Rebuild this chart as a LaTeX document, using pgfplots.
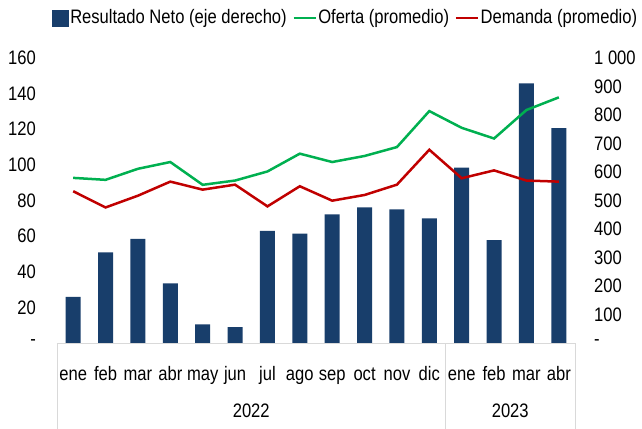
\documentclass[border=0pt]{standalone}
\usepackage{fontspec}
\setmainfont[FakeStretch=0.85]{Liberation Sans}
\usepackage{pgfplots}
\pgfplotsset{compat=1.18}
\definecolor{navy}{HTML}{183E6B}
\definecolor{ogreen}{HTML}{00B050}
\definecolor{dred}{HTML}{C00000}
\definecolor{lgrey}{HTML}{D9D9D9}
\begin{document}
\fontsize{19.5bp}{22bp}\selectfont
\begin{tikzpicture}
\path[use as bounding box] (-57bp,-86bp) rectangle (585bp,343bp);
\begin{axis}[
  at={(0bp,0bp)}, anchor=south west,
  scale only axis, width=518bp, height=285bp,
  xmin=-0.5, xmax=15.5, ymin=0, ymax=1000,
  axis y line*=right, axis x line=none,
  ytick={0,100,...,1000},
  yticklabels={-,100,200,300,400,500,600,700,800,900,1 000},
  major tick length=0pt,
  y axis line style={draw=none},
  yticklabel style={font=\fontsize{19.5bp}{22bp}\selectfont, anchor=west, inner sep=0pt, xshift=19bp},
  clip=false,
]
\addplot[ybar, bar width=0.46, fill=navy, draw=none] coordinates {
(0,162) (1,318) (2,365) (3,209) (4,65) (5,56) (6,393) (7,384)
(8,451) (9,476) (10,469) (11,437) (12,615) (13,361) (14,911) (15,754)
};
\end{axis}
\begin{axis}[
  at={(0bp,0bp)}, anchor=south west,
  scale only axis, width=518bp, height=285bp,
  xmin=-0.5, xmax=15.5, ymin=0, ymax=160,
  axis y line*=left, axis x line*=bottom,
  y axis line style={draw=none},
  x axis line style={draw=lgrey, line width=0.8bp, -},
  ytick={0,20,...,160},
  yticklabels={-,20,40,60,80,100,120,140,160},
  xtick={0,...,15},
  xticklabels={ene,feb,mar,abr,may,jun,jul,ago,sep,oct,nov,dic,ene,feb,mar,abr},
  major tick length=0pt,
  yticklabel style={font=\fontsize{19.5bp}{22bp}\selectfont, anchor=east, inner sep=0pt, xshift=-21bp},
  xticklabel style={font=\fontsize{19.5bp}{22bp}\selectfont, anchor=base, inner sep=0pt, yshift=-37bp},
  clip=false,
  legend columns=3,
  legend style={at={(axis description cs:0.557,1.14)}, anchor=center, draw=none, fill=none,
    font=\fontsize{19.5bp}{22bp}\selectfont,
    nodes={inner sep=1.5bp},
    /tikz/every even column/.append style={column sep=4bp}},
]
\addlegendimage{legend image code/.code={\fill[navy] (0bp,-8bp) rectangle (16bp,8bp);}}
\addlegendentry{Resultado Neto (eje derecho)}
\addplot[ogreen, line width=2.5bp, legend image code/.code={\draw[ogreen, line width=2.5bp] (0bp,0bp) -- (22bp,0bp);}] coordinates {
(0,92.7) (1,91.6) (2,97.8) (3,101.6) (4,88.8) (5,91.2) (6,96.3) (7,106.3)
(8,101.6) (9,105) (10,110) (11,130.2) (12,120.8) (13,114.8) (14,130.8) (15,137.9)
};
\addlegendentry{Oferta (promedio)}
\addplot[dred, line width=2.5bp, legend image code/.code={\draw[dred, line width=2.5bp] (0bp,0bp) -- (22bp,0bp);}] coordinates {
(0,85.2) (1,76.1) (2,82.7) (3,90.6) (4,86.1) (5,88.9) (6,76.7) (7,88)
(8,79.9) (9,83.1) (10,88.9) (11,108.5) (12,92.5) (13,96.9) (14,91.2) (15,90.6)
};
\addlegendentry{Demanda (promedio)}
\draw[lgrey, line width=0.8bp] (axis cs:-0.5,0) -- ++(0pt,-86bp);
\draw[lgrey, line width=0.8bp] (axis cs:11.5,0) -- ++(0pt,-86bp);
\draw[lgrey, line width=0.8bp] (axis cs:15.5,0) -- ++(0pt,-86bp);
\node[anchor=base, inner sep=0pt, font=\fontsize{19.5bp}{22bp}\selectfont] at ([yshift=-74bp]axis cs:5.5,0) {2022};
\node[anchor=base, inner sep=0pt, font=\fontsize{19.5bp}{22bp}\selectfont] at ([yshift=-74bp]axis cs:13.5,0) {2023};
\end{axis}
\end{tikzpicture}
\end{document}
